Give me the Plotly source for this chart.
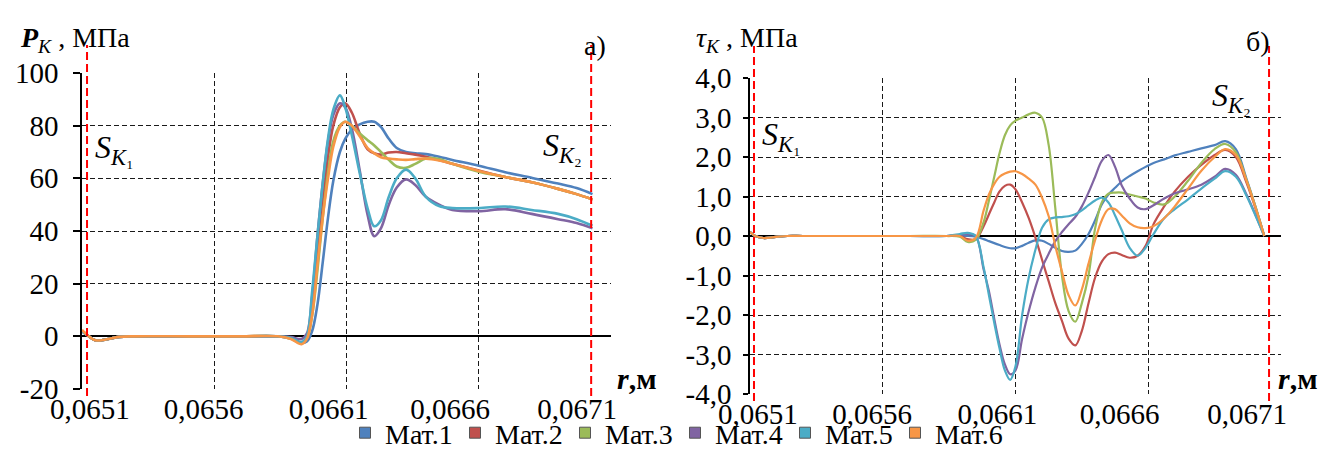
import plotly.graph_objects as go

# ---------------- data ----------------
series_names = ["Мат.1", "Мат.2", "Мат.3", "Мат.4", "Мат.5", "Мат.6"]
series_colors = ["#4F81BD", "#C0504D", "#9BBB59", "#8064A2", "#4BACC6", "#F79646"]

# a) contact pressure P_K, MPa
r_p = [0.06510, 0.06512, 0.06515, 0.06519, 0.06524, 0.06530, 0.06550, 0.06570, 0.06584,
       0.06589, 0.06593, 0.06595, 0.06597, 0.06599, 0.06601, 0.06603, 0.06605, 0.066075,
       0.066095, 0.06612, 0.06615, 0.06618, 0.066205, 0.06623, 0.06626, 0.06629, 0.066325,
       0.06636, 0.06640, 0.06645, 0.06650, 0.06660, 0.06670, 0.06680, 0.06690, 0.06697, 0.06703]
p_mat1 = [2, 0.5, -1.5, -1.2, -0.2, 0, 0, 0, 0, -0.5, -2.5, -2, 2, 12, 28, 45, 59, 70, 75, 78.5,
          80.5, 81.5, 81.5, 79.5, 75, 71.5, 70, 69.5, 69.2, 68.2, 67, 64.8, 62.3, 60.2, 58, 56.3, 54]
p_mat2 = [2, 0.5, -1.5, -1.2, -0.2, 0, 0, 0, 0, -0.8, -2.6, -0.5, 10, 30, 50, 68, 80, 87, 88.5, 85,
          77, 71, 69.5, 69, 69.8, 70, 69.5, 69, 68.2, 67, 65.5, 63, 60.5, 58.5, 56, 54, 52]
p_mat3 = [2, 0.5, -1.5, -1.2, -0.2, 0, 0, 0, 0, -0.8, -2.6, -0.8, 8, 25, 45, 62, 74, 80, 81.5, 80,
          77, 74.5, 72.5, 70, 67, 64.5, 64, 65.5, 67.5, 67.3, 65.5, 62.5, 60.5, 58.5, 56, 54, 52]
p_mat4 = [2, 0.5, -1.5, -1.2, -0.2, 0, 0, 0, 0, -0.3, -1, 1, 15, 38, 58, 74, 84, 88.5, 87, 79,
          63, 46, 38, 41, 50, 56.5, 59.6, 57.5, 53, 50, 48, 47.5, 48.3, 46.5, 44.5, 43, 41]
p_mat5 = [2, 0.5, -1.5, -1.2, -0.2, 0, 0, 0, 0, -0.6, -2.2, 0, 17, 38, 58, 75, 86, 91.5, 87, 76.5,
          62, 48.5, 41.8, 44, 53, 60, 63.3, 60, 53, 49.5, 48.7, 48.7, 49.3, 48, 46.5, 44.5, 42]
p_mat6 = [2.5, 0.5, -1.5, -1.2, -0.2, 0, 0, 0, 0, -1, -3, -1, 8, 27, 45, 60, 72, 79.5, 81.5, 80,
          76, 71.5, 69.5, 68, 67.5, 67.2, 67, 67.3, 67.5, 66.8, 65.5, 62.8, 60.5, 58.5, 56, 54, 52]

# б) contact shear stress tau_K, MPa
r_t = [0.06510, 0.06512, 0.06515, 0.06519, 0.06524, 0.06530, 0.06550, 0.06570, 0.06584,
       0.06589, 0.06592, 0.06595, 0.06598, 0.06600, 0.06602, 0.06604, 0.06606, 0.06608, 0.06610,
       0.066125, 0.06615, 0.066175, 0.06620, 0.066225, 0.06625, 0.066275, 0.06630, 0.066325, 0.06635,
       0.066375, 0.06640, 0.066425, 0.06645, 0.066475, 0.06650, 0.06653, 0.06656, 0.06659, 0.06662,
       0.06666, 0.06670, 0.06675, 0.06680, 0.06685, 0.06689, 0.06693, 0.06697, 0.067005, 0.067037]
t_mat1 = [0.1, 0, -0.05, -0.03, 0, 0, 0, 0, 0,
          0, 0, -0.02, -0.08, -0.13, -0.18, -0.23, -0.28, -0.31, -0.31,
          -0.25, -0.17, -0.11, -0.12, -0.2, -0.3, -0.38, -0.4, -0.37, -0.2,
          0.05, 0.4, 0.8, 1.05, 1.22, 1.38, 1.52, 1.64, 1.75, 1.85,
          1.94, 2.04, 2.13, 2.22, 2.3, 2.4, 2.2, 1.45, 0.72, 0]
t_mat2 = [0.1, 0, -0.05, -0.03, 0, 0, 0, 0, 0,
          0, -0.08, -0.08, 0.25, 0.55, 0.85, 1.13, 1.27, 1.3, 1.18,
          0.85, 0.45, -0.04, -0.6, -1.15, -1.7, -2.15, -2.6, -2.77, -2.4,
          -1.7, -1.05, -0.65, -0.46, -0.42, -0.48, -0.55, -0.5, -0.25, 0.3,
          0.75, 1.13, 1.5, 1.8, 2.05, 2.18, 2.0, 1.35, 0.68, 0]
t_mat3 = [0.1, 0, -0.05, -0.03, 0, 0, 0, 0, 0,
          -0.02, -0.15, -0.1, 0.35, 0.9, 1.5, 2.1, 2.55, 2.8, 2.92,
          3.0, 3.08, 3.12, 3.0, 2.3, 0.7, -1.0, -1.9, -2.17, -1.7,
          -1.0, 0.2, 0.85, 1.07, 1.1, 1.1, 1.05, 1.0, 0.95, 0.85,
          0.8, 1.0, 1.4, 1.85, 2.2, 2.33, 2.12, 1.42, 0.72, 0]
t_mat4 = [0.1, 0, -0.05, -0.03, 0, 0, 0, 0, 0,
          0.03, 0.05, 0, -0.85, -1.4, -2.1, -2.75, -3.25, -3.5, -3.4,
          -2.6, -1.9, -1.3, -0.8, -0.45, -0.13, 0.1, 0.3, 0.48, 0.75,
          1.1, 1.5, 1.9, 2.05, 1.75, 1.28, 0.95, 0.72, 0.68, 0.78,
          0.95, 1.08, 1.18, 1.3, 1.5, 1.7, 1.55, 1.05, 0.52, 0]
t_mat5 = [0.1, 0, -0.05, -0.03, 0, 0, 0, 0, 0,
          0.05, 0.08, 0, -0.8, -1.5, -2.2, -2.85, -3.4, -3.64, -3.3,
          -2.0, -1.05, -0.35, 0.21, 0.42, 0.47, 0.48, 0.5, 0.55, 0.65,
          0.78, 0.9, 0.97, 0.85, 0.52, 0.15, -0.3, -0.5, -0.3, 0.05,
          0.45, 0.68, 0.93, 1.2, 1.45, 1.64, 1.5, 1.02, 0.5, 0]
t_mat6 = [0.1, 0, -0.05, -0.03, 0, 0, 0, 0, 0,
          0, -0.12, -0.05, 0.65, 1.05, 1.32, 1.5, 1.58, 1.63, 1.64,
          1.57, 1.45, 1.3, 0.97, 0.5, -0.25, -0.9, -1.5, -1.76, -1.35,
          -0.7, -0.1, 0.4, 0.68, 0.68, 0.52, 0.32, 0.22, 0.2, 0.25,
          0.45, 0.75, 1.2, 1.65, 2.0, 2.2, 2.05, 1.4, 0.7, 0]

# axis ticks / labels
x_grid = [0.0651, 0.0656, 0.0661, 0.0666, 0.0671]
x_labels = ["0,0651", "0,0656", "0,0661", "0,0666", "0,0671"]
x_label_pos = [0.065130, 0.065560, 0.066032, 0.066492, 0.066972]
p_ticks = [-20, 0, 20, 40, 60, 80, 100]
t_ticks = [-4, -3, -2, -1, 0, 1, 2, 3, 4]
t_labels = ["-4,0", "-3,0", "-2,0", "-1,0", "0,0", "1,0", "2,0", "3,0", "4,0"]
# contact zone boundaries S_K1, S_K2
sk_p = [0.065119, 0.067025]
sk_t = [0.065115, 0.067055]

FONT = "Liberation Serif"
W, H = 1335, 450

def px(x):
    return x / W

def py(y):
    return 1 - y / H

fig = go.Figure()

p_series = [p_mat1, p_mat2, p_mat3, p_mat4, p_mat5, p_mat6]
t_series = [t_mat1, t_mat2, t_mat3, t_mat4, t_mat5, t_mat6]

for name, col, ys in zip(series_names, series_colors, p_series):
    fig.add_trace(go.Scatter(x=r_p, y=ys, mode="lines", name=name, showlegend=False,
                             line=dict(color=col, width=2.6, shape="spline", smoothing=1.0),
                             xaxis="x", yaxis="y"))
for name, col, ys in zip(series_names, series_colors, t_series):
    fig.add_trace(go.Scatter(x=r_t, y=ys, mode="lines", name=name, showlegend=False,
                             line=dict(color=col, width=2.2, shape="spline", smoothing=1.0),
                             xaxis="x2", yaxis="y2"))
# legend entries (square markers)
for name, col in zip(series_names, series_colors):
    fig.add_trace(go.Scatter(x=[None], y=[None], mode="markers", name=name,
                             marker=dict(symbol="square", size=11, color=col,
                                         line=dict(color="#555555", width=1)),
                             xaxis="x3", yaxis="y"))
fig.add_trace(go.Scatter(x=[None], y=[None], mode="markers", showlegend=False,
                         xaxis="x4", yaxis="y2"))

dom1 = [px(74), px(603)]
dom2 = [px(742), px(1273)]
ydom1 = [py(381), py(65)]
ydom2 = [py(386), py(70)]
xr = [0.06509999, 0.06710001]

grid = dict(showgrid=True, gridcolor="#1a1a1a", gridwidth=1, griddash="5px,3px")
tickfont = dict(family=FONT, size=29, color="black")

fig.update_layout(
    template="none",
    width=W, height=H,
    margin=dict(l=0, r=0, t=0, b=0, pad=0, autoexpand=False),
    paper_bgcolor="white", plot_bgcolor="white",
    font=dict(family=FONT, color="black"),
    xaxis=dict(domain=dom1, anchor="y", range=xr, tickmode="array", tickvals=x_grid,
               showticklabels=False, ticks="", zeroline=False, showline=False,
               automargin=False, **grid),
    yaxis=dict(domain=ydom1, anchor="x", range=[-20, 100], tickmode="array", tickvals=p_ticks,
               ticktext=[str(v) for v in p_ticks], tickfont=tickfont, ticks="outside",
               ticklen=7, tickwidth=1.5, tickcolor="black", ticklabelstandoff=9,
               showline=True, linecolor="black", linewidth=1.6, automargin=False,
               zeroline=True, zerolinecolor="black", zerolinewidth=1.6, **grid),
    xaxis2=dict(domain=dom2, anchor="y2", range=xr, tickmode="array", tickvals=x_grid,
                showticklabels=False, ticks="", zeroline=False, showline=False,
                automargin=False, **grid),
    yaxis2=dict(domain=ydom2, anchor="x2", range=[-4, 4], tickmode="array", tickvals=t_ticks,
                ticktext=t_labels, tickfont=tickfont, ticks="outside",
                ticklen=5, tickwidth=1.5, tickcolor="black", ticklabelstandoff=6,
                showline=True, linecolor="black", linewidth=1.6, automargin=False,
                zeroline=True, zerolinecolor="black", zerolinewidth=1.6, **grid),
    xaxis3=dict(overlaying="x", anchor="y", range=xr, tickmode="array", tickvals=x_label_pos,
                ticktext=x_labels, tickfont=tickfont, showgrid=False, zeroline=False,
                showline=False, ticks="", ticklabelstandoff=0, automargin=False),
    xaxis4=dict(overlaying="x2", anchor="y2", range=xr, tickmode="array", tickvals=x_label_pos,
                ticktext=x_labels, tickfont=tickfont, showgrid=False, zeroline=False,
                showline=False, ticks="", ticklabelstandoff=0, automargin=False),
    legend=dict(orientation="h", x=px(337), xanchor="left", y=py(425), yanchor="middle",
                font=dict(family=FONT, size=28, color="black"), entrywidth=65,
                itemwidth=30, bgcolor="rgba(0,0,0,0)", borderwidth=0),
    showlegend=True,
)

# red dashed boundary lines
red = dict(color="#ff0000", width=2, dash="8px,4px")
for xv in sk_p:
    fig.add_shape(type="line", xref="x", yref="paper", x0=xv, x1=xv,
                  y0=py(388), y1=py(37), line=red, layer="above")
for xv in sk_t:
    fig.add_shape(type="line", xref="x2", yref="paper", x0=xv, x1=xv,
                  y0=py(393), y1=py(38), line=red, layer="above")

def ann(text, x, y, size, xanchor="left"):
    fig.add_annotation(text=text, xref="paper", yref="paper", x=px(x), y=py(y),
                       xanchor=xanchor, yanchor="middle", showarrow=False,
                       font=dict(family=FONT, size=size, color="black"))

ann("<b><i>P</i></b><sub><i>K</i></sub> , МПа", 10, 31, 28)
ann("а)", 600, 38, 28, xanchor="right")
ann("<i>τ</i><sub><i>K</i></sub> , МПа", 686, 31, 28)
ann("б)", 1264, 33, 28, xanchor="right")
ann("<i>S</i><sub><i>K</i>₁</sub>", 85, 141, 32)
ann("<i>S</i><sub><i>K</i>₂</sub>", 533, 139, 32)
ann("<i>S</i><sub><i>K</i>₁</sub>", 752, 129, 32)
ann("<i>S</i><sub><i>K</i>₂</sub>", 1202, 89, 32)
ann("<b><i>r</i>,м</b>", 607, 370, 30)
ann("<b><i>r</i>,м</b>", 1268, 370, 30)

fig.write_html("out.html", config={"displayModeBar": False})
